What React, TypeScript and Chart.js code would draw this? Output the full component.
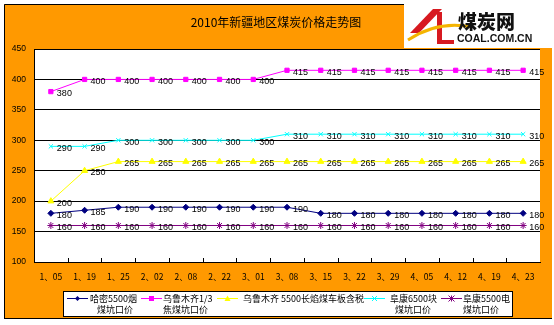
import React, { useEffect, useRef } from "react";
import { Chart, registerables } from "chart.js";

Chart.register(...registerables);

const categories = ["1、05", "1、19", "1、25", "2、02", "2、08", "2、22", "3、01", "3、08", "3、15", "3、22", "3、29", "4、05", "4、12", "4、19", "4、23"];
const hamiPrices = [180, 185, 190, 190, 190, 190, 190, 190, 180, 180, 180, 180, 180, 180, 180];
const urumqiCokingPrices = [380, 400, 400, 400, 400, 400, 400, 415, 415, 415, 415, 415, 415, 415, 415];
const urumqiLongFlamePrices = [200, 250, 265, 265, 265, 265, 265, 265, 265, 265, 265, 265, 265, 265, 265];
const fukangLumpPrices = [290, 290, 300, 300, 300, 300, 300, 310, 310, 310, 310, 310, 310, 310, 310];
const fukangPowerPrices = [160, 160, 160, 160, 160, 160, 160, 160, 160, 160, 160, 160, 160, 160, 160];
const yMin = 100;
const yMax = 450;
const yStep = 50;
const seriesLegendLines = [
  ["哈密5500烟", "煤坑口价"],
  ["乌鲁木齐1/3", "焦煤坑口价"],
  ["乌鲁木齐 5500长焰煤车板含税"],
  ["阜康6500块", "煤坑口价"],
  ["阜康5500电", "煤坑口价"],
];
const titleText = "2010年新疆地区煤炭价格走势图";
const logoText = "煤炭网";
const logoSub = "COAL.COM.CN";

const ORANGE = "#FF9900";
const colors = ["#000080", "#FF00FF", "#FFFF00", "#00FFFF", "#800080"];
const pointStyles: any[] = ["rectRot", "rect", "triangle", "crossRot", "star"];
const pointRadii = [3, 3, 3.5, 3, 3.5];
const allSeries = [hamiPrices, urumqiCokingPrices, urumqiLongFlamePrices, fukangLumpPrices, fukangPowerPrices];

const CJK = '"Noto Sans CJK SC", sans-serif';
const NUM = '"Liberation Sans", Arial, sans-serif';

function drawMarker(ctx: CanvasRenderingContext2D, style: string, x: number, y: number, r: number) {
  ctx.beginPath();
  if (style === "rectRot") {
    ctx.moveTo(x, y - r);
    ctx.lineTo(x + r, y);
    ctx.lineTo(x, y + r);
    ctx.lineTo(x - r, y);
    ctx.closePath();
    ctx.fill();
  } else if (style === "rect") {
    ctx.rect(x - r, y - r, 2 * r, 2 * r);
    ctx.fill();
  } else if (style === "triangle") {
    ctx.moveTo(x, y - r);
    ctx.lineTo(x + r, y + r * 0.8);
    ctx.lineTo(x - r, y + r * 0.8);
    ctx.closePath();
    ctx.fill();
  } else if (style === "crossRot") {
    ctx.moveTo(x - r, y - r);
    ctx.lineTo(x + r, y + r);
    ctx.moveTo(x + r, y - r);
    ctx.lineTo(x - r, y + r);
    ctx.stroke();
  } else {
    ctx.moveTo(x - r, y - r);
    ctx.lineTo(x + r, y + r);
    ctx.moveTo(x + r, y - r);
    ctx.lineTo(x - r, y + r);
    ctx.moveTo(x, y - r);
    ctx.lineTo(x, y + r);
    ctx.stroke();
  }
}

const backgroundPlugin = {
  id: "bgFrame",
  beforeDraw(chart: any) {
    const { ctx, chartArea } = chart;
    ctx.save();
    ctx.fillStyle = "#FFFFFF";
    ctx.fillRect(0, 0, chart.width, chart.height);
    ctx.fillStyle = ORANGE;
    ctx.fillRect(4, 4, 548, 314);
    ctx.strokeStyle = "#000000";
    ctx.lineWidth = 1;
    ctx.beginPath();
    ctx.moveTo(4.5, 318);
    ctx.lineTo(4.5, 4.5);
    ctx.lineTo(404, 4.5);
    ctx.moveTo(4, 318.5);
    ctx.lineTo(552, 318.5);
    ctx.stroke();
    ctx.fillStyle = "#FFFFFF";
    ctx.fillRect(chartArea.left, chartArea.top, chartArea.right - chartArea.left, chartArea.bottom - chartArea.top);
    ctx.fillRect(404, 0, 150, 48);
    ctx.fillStyle = "#000000";
    ctx.font = `12px ${CJK}`;
    ctx.textAlign = "center";
    ctx.textBaseline = "middle";
    ctx.fillText(titleText, 276, 22);
    // logo graphics
    ctx.fillStyle = "#D71920";
    ctx.beginPath();
    ctx.moveTo(433, 9);
    ctx.lineTo(442, 9);
    ctx.lineTo(419, 33);
    ctx.lineTo(410, 33);
    ctx.closePath();
    ctx.fill();
    ctx.fillRect(437, 12, 5, 32);
    ctx.fillRect(437, 40, 17, 4);
    ctx.strokeStyle = "#F4B400";
    ctx.lineWidth = 3;
    ctx.beginPath();
    ctx.moveTo(408, 40);
    ctx.quadraticCurveTo(438, 20, 472, 27);
    ctx.stroke();
    ctx.fillStyle = "#111111";
    ctx.font = `900 19px ${CJK}`;
    ctx.textAlign = "left";
    ctx.fillText(logoText, 458, 22);
    ctx.font = `bold 10.5px ${NUM}`;
    ctx.fillText(logoSub, 457, 39.5);
    ctx.restore();
  },
};

const overlayPlugin = {
  id: "overlay",
  afterDatasetsDraw(chart: any) {
    const { ctx, chartArea } = chart;
    ctx.save();
    ctx.strokeStyle = "#000000";
    ctx.lineWidth = 1;
    const n = categories.length;
    const w = (chartArea.right - chartArea.left) / n;
    ctx.beginPath();
    for (let i = 1; i < n; i++) {
      const x = Math.round(chartArea.left + i * w) + 0.5;
      ctx.moveTo(x, chartArea.bottom - 4);
      ctx.lineTo(x, chartArea.bottom);
    }
    ctx.stroke();
    // data labels
    ctx.fillStyle = "#000000";
    ctx.font = `9px ${NUM}`;
    ctx.textAlign = "left";
    ctx.textBaseline = "middle";
    chart.data.datasets.forEach((ds: any, di: number) => {
      const meta = chart.getDatasetMeta(di);
      meta.data.forEach((pt: any, i: number) => {
        ctx.fillText(String(ds.data[i]), pt.x + 6, pt.y + 2);
      });
    });
    // legend
    ctx.fillStyle = "#FFFFFF";
    ctx.fillRect(63, 291, 449, 25);
    ctx.strokeStyle = "#000000";
    ctx.strokeRect(63.5, 291.5, 449, 25);
    const lineStarts = [67, 141, 217, 364, 441];
    const textStarts = [90, 163, 243, 390, 463];
    const text2Starts = [97, 163, 243, 395, 463];
    ctx.font = `9px ${CJK}`;
    for (let i = 0; i < 5; i++) {
      const y = 298.5;
      ctx.strokeStyle = colors[i];
      ctx.lineWidth = 1;
      ctx.beginPath();
      ctx.moveTo(lineStarts[i], y);
      ctx.lineTo(lineStarts[i] + 21, y);
      ctx.stroke();
      ctx.fillStyle = colors[i];
      ctx.strokeStyle = colors[i];
      drawMarker(ctx, pointStyles[i], lineStarts[i] + 10.5, y, pointRadii[i] - 0.5);
      ctx.fillStyle = "#000000";
      ctx.textAlign = "left";
      ctx.fillText(seriesLegendLines[i][0], textStarts[i], 299);
      if (seriesLegendLines[i][1]) ctx.fillText(seriesLegendLines[i][1], text2Starts[i], 310);
    }
    ctx.restore();
  },
};

export default function App() {
  const ref = useRef<HTMLCanvasElement | null>(null);
  useEffect(() => {
    document.body.style.margin = "0";
    const canvas = ref.current;
    if (!canvas) return;
    const chart = new Chart(canvas, {
      type: "line",
      data: {
        labels: categories,
        datasets: allSeries.map((data, i) => ({
          label: seriesLegendLines[i].join(""),
          data,
          borderColor: colors[i],
          backgroundColor: colors[i],
          borderWidth: 1,
          pointStyle: pointStyles[i],
          pointRadius: pointRadii[i],
          pointBorderWidth: 1,
          pointBorderColor: colors[i],
          pointBackgroundColor: colors[i],
          tension: 0,
          clip: false as any,
        })),
      },
      options: {
        responsive: false,
        animation: false,
        devicePixelRatio: 1,
        layout: { padding: { top: 49, right: 14, left: 0, bottom: 0 } },
        plugins: { legend: { display: false }, tooltip: { enabled: false }, title: { display: false } },
        scales: {
          x: {
            offset: true,
            grid: { display: false, drawTicks: false },
            border: { display: true, color: "#000000", width: 1 },
            ticks: { padding: 10, color: "#000000", font: { family: CJK, size: 8.5 }, maxRotation: 0, autoSkip: false },
            afterFit: (s: any) => { s.height = 63; },
          },
          y: {
            min: yMin,
            max: yMax,
            ticks: { stepSize: yStep, padding: 8, color: "#000000", font: { family: NUM, size: 8.5 } },
            grid: {
              drawTicks: false,
              color: (c: any) => (c.tick && c.tick.value === yMin ? "rgba(0,0,0,0)" : "#000000"),
              lineWidth: 1,
            },
            border: { display: true, color: "#000000", width: 1 },
            afterFit: (s: any) => { s.width = 34; },
          },
        },
      },
      plugins: [backgroundPlugin, overlayPlugin],
    });
    return () => chart.destroy();
  }, []);
  return <canvas ref={ref} width={554} height={325} style={{ display: "block", width: 554, height: 325 }} />;
}
